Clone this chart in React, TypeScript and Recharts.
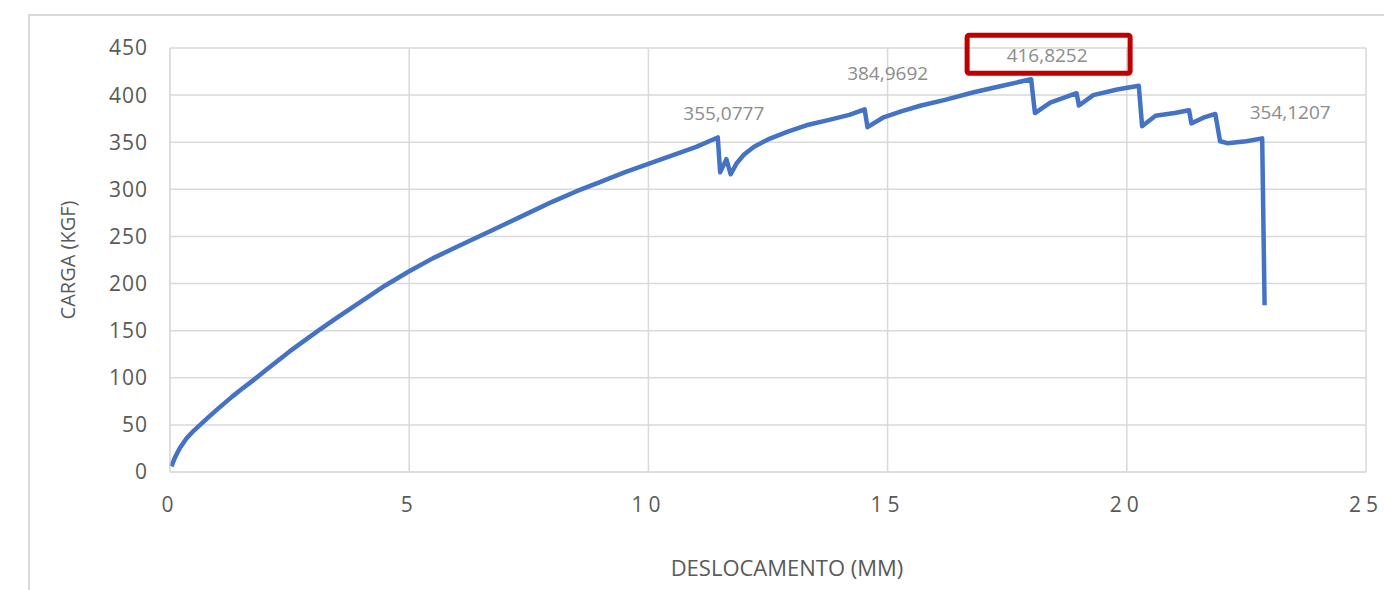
import React from "react";
import {
  LineChart,
  Line,
  XAxis,
  YAxis,
  CartesianGrid,
  LabelList,
} from "recharts";

// displacement (mm)
const deslocamento = [
  0.03, 0.1, 0.2, 0.35, 0.5, 0.63, 0.8, 1.0, 1.3, 1.5, 1.73, 2.0, 2.5, 3.1,
  3.5, 4.0, 4.5, 5.0, 5.5, 6.0, 6.5, 7.0, 7.5, 8.0, 8.5, 9.0, 9.5, 10.0, 10.5,
  11.0, 11.45, 11.5, 11.63, 11.72, 11.85, 12.0, 12.2, 12.5, 12.9, 13.3, 13.8,
  14.2, 14.52, 14.58, 14.9, 15.3, 15.7, 16.2, 16.8, 17.4, 18.0, 18.08, 18.4,
  18.95, 19.0, 19.3, 19.8, 20.25, 20.32, 20.6, 21.0, 21.3, 21.35, 21.6, 21.85,
  21.95, 22.1, 22.5, 22.83, 22.88,
];

// load (kgf)
const carga = [
  6, 15, 25, 36, 44, 50, 58, 67, 80, 88, 97, 108, 128, 150, 164, 181, 198,
  213, 227, 239, 251, 263, 275, 287, 298, 308, 318, 327, 336, 345, 355.0777,
  318, 332, 316, 328, 337, 345, 353, 361, 368, 374, 379, 384.9692, 366, 376,
  383, 389, 395, 403, 410, 416.8252, 381, 392, 402, 389, 400, 406, 410, 367,
  378, 381, 384, 370, 376, 380, 351, 349, 351, 354.1207, 177,
];

// points that carry a data label
const labelledPoints = [30, 42, 50, 68];
const highlightedPoint = 50;

const xTicks = [0, 5, 10, 15, 20, 25];
const yTicks = [0, 50, 100, 150, 200, 250, 300, 350, 400, 450];

// label offsets (px) relative to the point, per labelled point
const LABEL_OFFSETS: Record<number, [number, number]> = {
  30: [6, -23],
  42: [23, -34],
  50: [16, -22],
  68: [28, -24],
};

const fmt = (v: number) => v.toFixed(4).replace(".", ",");

const data = deslocamento.map((x, i) => ({
  x,
  y: carga[i],
  label: labelledPoints.includes(i) ? fmt(carga[i]) : undefined,
}));

const FONT = "Open Sans, sans-serif";
const GRAY = "#595959";

const renderLabel = (props: any) => {
  const { x, y, value, index } = props;
  if (value === undefined || value === null) return null;
  const [dx, dy] = LABEL_OFFSETS[index] || [0, -20];
  const cx = x + dx;
  const cy = y + dy;
  return (
    <g>
      {index === highlightedPoint && (
        <rect
          x={cx - 80}
          y={cy - 22}
          width={163}
          height={38}
          fill="none"
          stroke="#C00000"
          strokeWidth={5}
          rx={2}
        />
      )}
      <text
        x={cx}
        y={cy}
        textAnchor="middle"
        dominantBaseline="middle"
        fill="#8c8c8c"
        fontSize={19}
        fontFamily={FONT}
      >
        {value}
      </text>
    </g>
  );
};

export default function App() {
  return (
    <div
      style={{
        position: "absolute",
        left: 0,
        top: 0,
        width: 1384,
        height: 590,
        background: "#fff",
        overflow: "hidden",
        fontFamily: FONT,
      }}
    >
      <div
        style={{
          position: "absolute",
          left: 28,
          top: 14,
          width: 1400,
          height: 620,
          border: "2px solid #d9d9d9",
        }}
      />
      <LineChart
        width={1384}
        height={590}
        data={data}
        margin={{ top: 48, right: 18, bottom: 0, left: 0 }}
      >
        <CartesianGrid stroke="#d9d9d9" strokeWidth={1.5} />
        <XAxis
          dataKey="x"
          type="number"
          domain={[0, 25]}
          ticks={xTicks}
          height={118}
          tickSize={0}
          tickMargin={25}
          stroke="#d9d9d9"
          tick={{ fill: GRAY, fontSize: 21, fontFamily: FONT, letterSpacing: 5 }}
          label={{
            value: "DESLOCAMENTO (MM)",
            position: "insideBottom",
            offset: 14,
            dx: 19,
            fill: GRAY,
            fontSize: 22,
            fontFamily: FONT,
          }}
        />
        <YAxis
          type="number"
          domain={[0, 450]}
          ticks={yTicks}
          width={170}
          tickSize={0}
          tickMargin={22}
          stroke="#d9d9d9"
          tick={{ fill: GRAY, fontSize: 21, fontFamily: FONT, letterSpacing: 1 }}
          label={{
            value: "CARGA (KGF)",
            angle: -90,
            position: "center",
            dx: -17,
            fill: GRAY,
            fontSize: 20,
            fontFamily: FONT,
          }}
        />
        <Line
          type="linear"
          dataKey="y"
          stroke="#4472C4"
          strokeWidth={4.5}
          strokeLinejoin="round"
          dot={false}
          isAnimationActive={false}
        >
          <LabelList dataKey="label" content={renderLabel} />
        </Line>
      </LineChart>
    </div>
  );
}
